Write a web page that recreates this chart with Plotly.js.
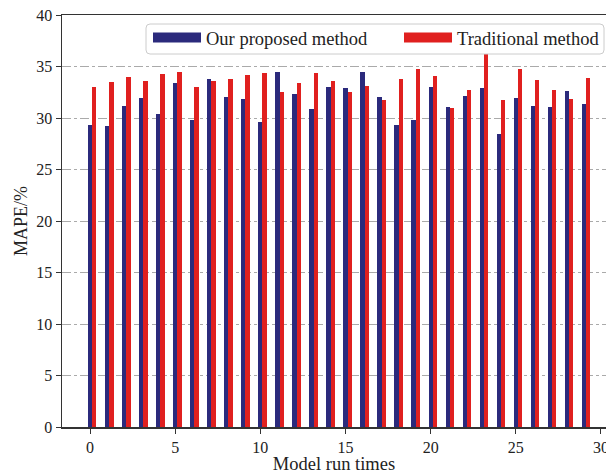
<!DOCTYPE html>
<html>
<head>
<meta charset="utf-8">
<script src="https://cdn.plot.ly/plotly-3.0.1.min.js"></script>
<style>html,body{margin:0;padding:0;background:#fff;}#chart{width:606px;height:474px;}</style>
</head>
<body>
<div id="chart"></div>
<script>
const runs = Array.from({length: 30}, (_, i) => i);
const proposed = [29.3, 29.2, 31.15, 31.9, 30.4, 33.4, 29.8, 33.8, 32.0, 31.85,
                  29.6, 34.5, 32.3, 30.85, 33.0, 32.9, 34.5, 32.05, 29.3, 29.85,
                  33.0, 31.1, 32.1, 32.9, 28.4, 31.9, 31.15, 31.1, 32.65, 31.35];
const traditional = [33.0, 33.5, 34.0, 33.6, 34.3, 34.5, 33.0, 33.55, 33.8, 34.2,
                     34.35, 32.55, 33.4, 34.35, 33.6, 32.55, 33.15, 31.7, 33.8, 34.75,
                     34.05, 31.0, 32.7, 36.25, 31.7, 34.8, 33.7, 32.7, 31.8, 33.85];
const names = ["Our proposed method", "Traditional method"];
const colors = ["#2b2a7c", "#e0201f"];
const xTicks = [0, 5, 10, 15, 20, 25, 30];
const yTicks = [0, 5, 10, 15, 20, 25, 30, 35, 40];

const font = "Liberation Serif, Times New Roman, serif";
const data = [
  {type: "bar", x: runs, y: proposed, width: 0.25, offset: -0.125,
   marker: {color: colors[0], line: {width: 0}}, showlegend: false, name: names[0]},
  {type: "bar", x: runs, y: traditional, width: 0.25, offset: 0.125,
   marker: {color: colors[1], line: {width: 0}}, showlegend: false, name: names[1]},
  {type: "scatter", mode: "lines", x: [null], y: [null], name: names[0],
   line: {color: colors[0], width: 12}, legend: "legend"},
  {type: "scatter", mode: "lines", x: [null], y: [null], name: names[1],
   line: {color: colors[1], width: 12}, legend: "legend2"}
];

// legend frame (paper coords), rounded corners
const fx0 = (146 - 62) / 544, fx1 = (604 - 62) / 544;
const fy0 = (427 - 54) / 412, fy1 = (427 - 24) / 412;
const rx = 4 / 544, ry = 4 / 412;
const framePath = `M${fx0 + rx},${fy1} L${fx1 - rx},${fy1} Q${fx1},${fy1} ${fx1},${fy1 - ry} ` +
  `L${fx1},${fy0 + ry} Q${fx1},${fy0} ${fx1 - rx},${fy0} L${fx0 + rx},${fy0} ` +
  `Q${fx0},${fy0} ${fx0},${fy0 + ry} L${fx0},${fy1 - ry} Q${fx0},${fy1} ${fx0 + rx},${fy1} Z`;

const legendCommon = {
  orientation: "h", y: (427 - 19) / 412, yanchor: "top", xanchor: "left",
  bgcolor: "rgba(0,0,0,0)", borderwidth: 0,
  font: {family: font, size: 18.5, color: "#222"}, itemwidth: 48
};

const layout = {
  width: 606, height: 474,
  margin: {l: 62, r: 0, t: 15, b: 47},
  paper_bgcolor: "#fff", plot_bgcolor: "#fff",
  font: {family: font, color: "#222", size: 16},
  barmode: "overlay",
  bargap: 0,
  xaxis: {
    range: [-1.65, 30.3], tickvals: xTicks, ticks: "outside", ticklen: 5,
    tickcolor: "#333", showline: true, linecolor: "#333", linewidth: 1.5,
    mirror: true, showgrid: false, zeroline: false, ticklabeloverflow: "allow",
    tickfont: {family: font, size: 16, color: "#222"},
    title: {text: "Model run times", font: {family: font, size: 18.5, color: "#222"}, standoff: 4}
  },
  yaxis: {
    range: [0, 40], tickvals: yTicks, ticks: "outside", ticklen: 5,
    tickcolor: "#333", showline: true, linecolor: "#333", linewidth: 1.5,
    showgrid: true, gridcolor: "#aaaaaa", griddash: "dashdot", gridwidth: 1,
    zeroline: false,
    tickfont: {family: font, size: 16, color: "#222"},
    title: {text: "MAPE/%", font: {family: font, size: 18, color: "#222"}, standoff: 4}
  },
  shapes: [{type: "path", xref: "paper", yref: "paper", path: framePath,
            fillcolor: "#ffffff", line: {color: "#cccccc", width: 1}, layer: "above"}],
  legend: Object.assign({}, legendCommon, {x: (148 - 62) / 544}),
  legend2: Object.assign({}, legendCommon, {x: (399 - 62) / 544}),
  showlegend: true
};
Plotly.newPlot("chart", data, layout, {displayModeBar: false, staticPlot: true});
</script>
</body>
</html>
